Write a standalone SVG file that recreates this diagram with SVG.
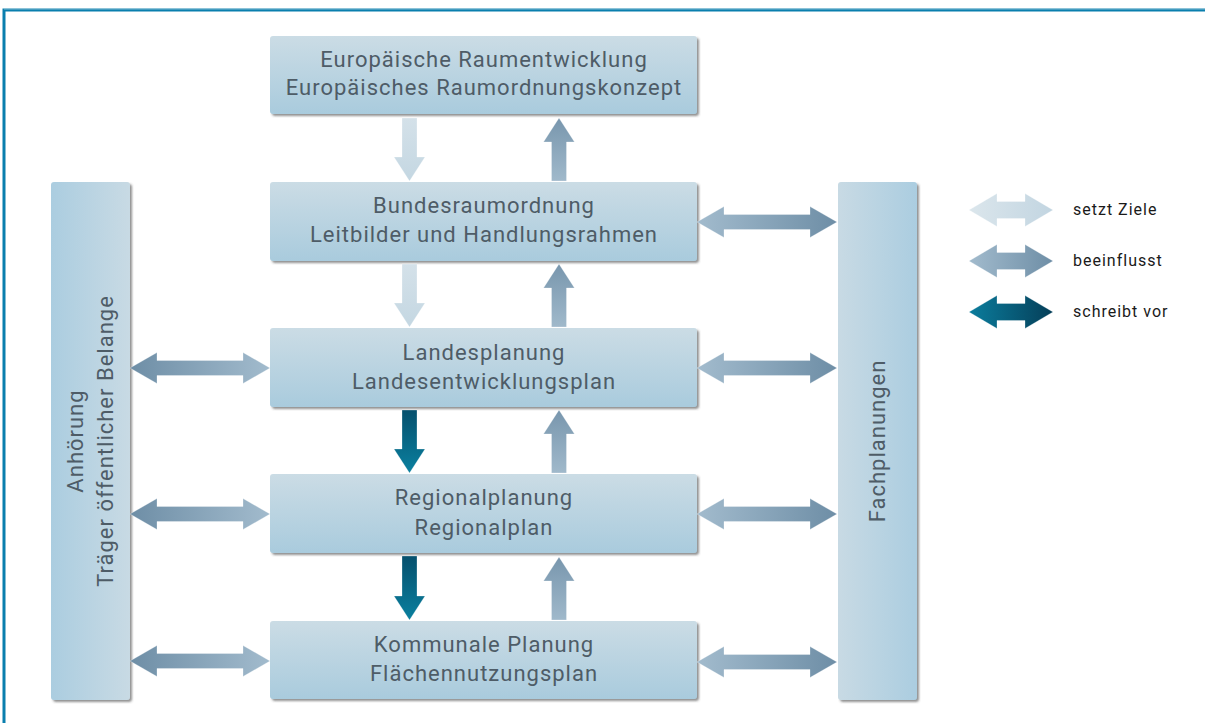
<svg xmlns="http://www.w3.org/2000/svg" width="1205" height="723" viewBox="0 0 1205 723">
<defs>
<style>
.t{font-family:Roboto,"Liberation Sans",sans-serif;font-size:22px;fill:#4e5c67;text-anchor:middle;letter-spacing:1px}
.lg{font-family:Roboto,"Liberation Sans",sans-serif;font-size:16px;fill:#1a1a1a;letter-spacing:1px}
.box{filter:url(#sh)}
.ar{stroke:#ffffff;stroke-opacity:0.35;stroke-width:0.8}
</style>
<filter id="sh" x="-10%" y="-10%" width="120%" height="120%">
<feDropShadow dx="2" dy="2" stdDeviation="1" flood-color="#4a4a4a" flood-opacity="0.6"/>
</filter>
<linearGradient id="gNode" x1="0" y1="0" x2="0" y2="1">
<stop offset="0" stop-color="#cbdce5"/><stop offset="1" stop-color="#a9cbdd"/>
</linearGradient>
<linearGradient id="gColL" x1="0" y1="0" x2="1" y2="0">
<stop offset="0" stop-color="#abcde0"/><stop offset="1" stop-color="#c8dae4"/>
</linearGradient>
<linearGradient id="gColR" x1="0" y1="0" x2="1" y2="0">
<stop offset="0" stop-color="#c8dae4"/><stop offset="1" stop-color="#abcde0"/>
</linearGradient>
<linearGradient id="gLightV" x1="0" y1="0" x2="0" y2="1">
<stop offset="0" stop-color="#d4e1e9"/><stop offset="1" stop-color="#c4d7e2"/>
</linearGradient>
<linearGradient id="gUpV" x1="0" y1="0" x2="0" y2="1">
<stop offset="0" stop-color="#7896ad"/><stop offset="1" stop-color="#a0b9cb"/>
</linearGradient>
<linearGradient id="gDarkV" x1="0" y1="0" x2="0" y2="1">
<stop offset="0" stop-color="#06506d"/><stop offset="1" stop-color="#0a809f"/>
</linearGradient>
<linearGradient id="gHL" x1="0" y1="0" x2="1" y2="0">
<stop offset="0" stop-color="#6e8ea6"/><stop offset="1" stop-color="#a2bbcd"/>
</linearGradient>
<linearGradient id="gHR" x1="0" y1="0" x2="1" y2="0">
<stop offset="0" stop-color="#a2bbcd"/><stop offset="1" stop-color="#6e8ea6"/>
</linearGradient>
<linearGradient id="gLegL" x1="0" y1="0" x2="1" y2="0">
<stop offset="0" stop-color="#dbe6ec"/><stop offset="1" stop-color="#c2d5e1"/>
</linearGradient>
<linearGradient id="gLegD" x1="0" y1="0" x2="1" y2="0">
<stop offset="0" stop-color="#0b7d9d"/><stop offset="1" stop-color="#053e58"/>
</linearGradient>
</defs>
<rect x="0" y="0" width="1205" height="723" fill="#ffffff"/>
<!-- frame -->
<g id="frame">
<rect x="4" y="10" width="1210" height="730" fill="none" stroke="#0a7fae" stroke-width="3"/>
<line x1="4" y1="9" x2="1205" y2="9" stroke="#9cc9dc" stroke-width="0.8"/>
</g>

<!-- side columns -->
<g id="anhoerung">
<rect class="box" x="51" y="182" width="79" height="518" rx="3" fill="url(#gColL)"/>
<text class="t" transform="translate(83,441) rotate(-90)">Anhörung</text>
<text class="t" transform="translate(113,441) rotate(-90)">Träger öffentlicher Belange</text>
</g>
<g id="fachplanungen">
<rect class="box" x="838" y="182" width="79" height="518" rx="3" fill="url(#gColR)"/>
<text class="t" transform="translate(885,441) rotate(-90)">Fachplanungen</text>
</g>

<!-- nodes -->
<g id="europa">
<rect class="box" x="270" y="36" width="427" height="78" rx="3" fill="url(#gNode)"/>
<text class="t" x="484" y="67">Europäische Raumentwicklung</text>
<text class="t" x="484" y="95">Europäisches Raumordnungskonzept</text>
</g>
<g id="bund">
<rect class="box" x="270" y="182" width="427" height="79" rx="3" fill="url(#gNode)"/>
<text class="t" x="484" y="213">Bundesraumordnung</text>
<text class="t" x="484" y="242">Leitbilder und Handlungsrahmen</text>
</g>
<g id="land">
<rect class="box" x="270" y="328" width="427" height="79" rx="3" fill="url(#gNode)"/>
<text class="t" x="484" y="360">Landesplanung</text>
<text class="t" x="484" y="389">Landesentwicklungsplan</text>
</g>
<g id="region">
<rect class="box" x="270" y="474" width="427" height="79" rx="3" fill="url(#gNode)"/>
<text class="t" x="484" y="505">Regionalplanung</text>
<text class="t" x="484" y="535">Regionalplan</text>
</g>
<g id="kommune">
<rect class="box" x="270" y="621" width="427" height="78" rx="3" fill="url(#gNode)"/>
<text class="t" x="484" y="652">Kommunale Planung</text>
<text class="t" x="484" y="681">Flächennutzungsplan</text>
</g>

<!-- connectors -->
<g id="connectors" class="ar">
<!-- setzt Ziele (down, light) -->
<path fill="url(#gLightV)" d="M402,118 H417 V157 H425 L409.5,181 L394,157 H402 Z"/>
<path fill="url(#gLightV)" d="M402,264 H417 V303 H425 L409.5,327 L394,303 H402 Z"/>
<!-- schreibt vor (down, dark) -->
<path fill="url(#gDarkV)" d="M402,410 H417 V449 H425 L409.5,473 L394,449 H402 Z"/>
<path fill="url(#gDarkV)" d="M402,556 H417 V596 H425 L409.5,620 L394,596 H402 Z"/>
<!-- beeinflusst (up) -->
<path fill="url(#gUpV)" d="M551.5,181 H566.5 V142 H574.5 L559,118 L543.5,142 H551.5 Z"/>
<path fill="url(#gUpV)" d="M551.5,327 H566.5 V288 H574.5 L559,264 L543.5,288 H551.5 Z"/>
<path fill="url(#gUpV)" d="M551.5,473 H566.5 V434 H574.5 L559,410 L543.5,434 H551.5 Z"/>
<path fill="url(#gUpV)" d="M551.5,620 H566.5 V581 H574.5 L559,557 L543.5,581 H551.5 Z"/>
<!-- left double arrows -->
<path fill="url(#gHL)" d="M130,368 L157,352.5 V360.5 H243 V352.5 L270,368 L243,383.5 V375.5 H157 V383.5 Z"/>
<path fill="url(#gHL)" d="M130,514 L157,498.5 V506.5 H243 V498.5 L270,514 L243,529.5 V521.5 H157 V529.5 Z"/>
<path fill="url(#gHL)" d="M130,661 L157,645.5 V653.5 H243 V645.5 L270,661 L243,676.5 V668.5 H157 V676.5 Z"/>
<!-- right double arrows -->
<path fill="url(#gHR)" d="M697,222 L724,206.5 V214.5 H810 V206.5 L837,222 L810,237.5 V229.5 H724 V237.5 Z"/>
<path fill="url(#gHR)" d="M697,368 L724,352.5 V360.5 H810 V352.5 L837,368 L810,383.5 V375.5 H724 V383.5 Z"/>
<path fill="url(#gHR)" d="M697,514 L724,498.5 V506.5 H810 V498.5 L837,514 L810,529.5 V521.5 H724 V529.5 Z"/>
<path fill="url(#gHR)" d="M697,662 L724,646.5 V654.5 H810 V646.5 L837,662 L810,677.5 V669.5 H724 V677.5 Z"/>
</g>

<!-- legend -->
<g id="legend">
<path class="ar" fill="url(#gLegL)" d="M969,210 L997,193.5 V201.5 H1025 V193.5 L1053,210 L1025,226.5 V218.5 H997 V226.5 Z"/>
<text class="lg" x="1073" y="215">setzt Ziele</text>
<path class="ar" fill="url(#gHR)" d="M969,261 L997,244.5 V252.5 H1025 V244.5 L1053,261 L1025,277.5 V269.5 H997 V277.5 Z"/>
<text class="lg" x="1073" y="266">beeinflusst</text>
<path class="ar" fill="url(#gLegD)" d="M969,312 L997,295.5 V303.5 H1025 V295.5 L1053,312 L1025,328.5 V320.5 H997 V328.5 Z"/>
<text class="lg" x="1073" y="317">schreibt vor</text>
</g>
</svg>
